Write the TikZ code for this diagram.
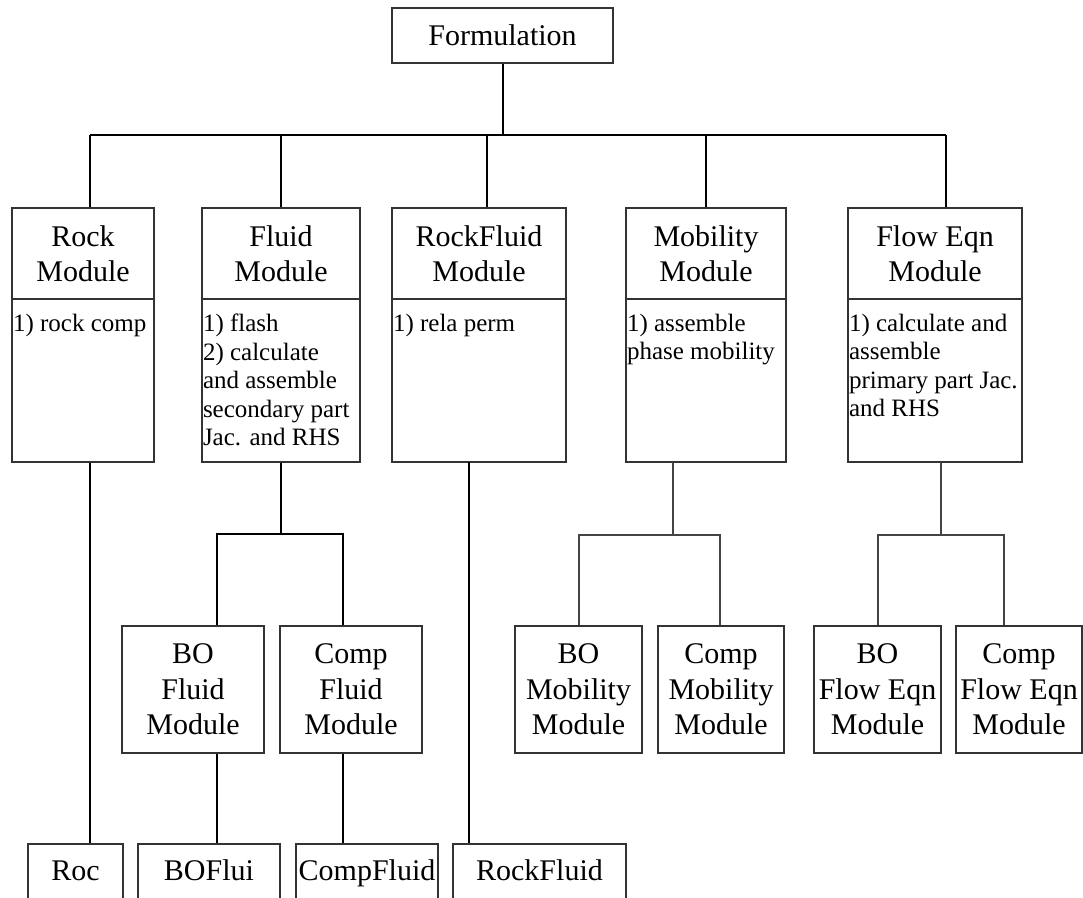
\documentclass[tikz,border=0pt]{standalone}
\usepackage{fontspec}
\setmainfont{Liberation Serif}
\definecolor{boxgray}{HTML}{333333}
\definecolor{lngray}{HTML}{444444}
\tikzset{
  box/.style={draw=boxgray, line width=1.4pt, inner sep=0pt, align=center,
    font=\fontsize{30}{35.5}\selectfont},
  bodytxt/.style={inner sep=0pt, align=left, anchor=north west,
    font=\fontsize{25}{28.5}\selectfont},
  bottomtxt/.style={text height=20pt, text depth=6pt},
  tree/.style={draw=black, line width=2pt},
  subtree/.style={draw=lngray, line width=1.4pt},
}
\begin{document}
\begin{tikzpicture}[x=1pt,y=-1pt]
\useasboundingbox (0,0) rectangle (1083,897);
\fill[white] (0,0) rectangle (1083,897);
\clip (0,0) rectangle (1083,897);

% top
\node[box, minimum width=221pt, minimum height=55pt] (form) at (502.5,35.5) {Formulation};

% level 1 headers and bodies
\node[box, minimum width=142pt, minimum height=91pt] (rockH) at (83,253.5) {Rock\\Module};
\node[box, minimum width=142pt, minimum height=163pt] (rockB) at (83,380.5) {};
\node[box, minimum width=158pt, minimum height=91pt] (fluidH) at (281,253.5) {Fluid\\Module};
\node[box, minimum width=158pt, minimum height=163pt] (fluidB) at (281,380.5) {};
\node[box, minimum width=174pt, minimum height=91pt] (rfH) at (479,253.5) {RockFluid\\Module};
\node[box, minimum width=174pt, minimum height=163pt] (rfB) at (479,380.5) {};
\node[box, minimum width=160pt, minimum height=91pt] (mobH) at (706,253.5) {Mobility\\Module};
\node[box, minimum width=160pt, minimum height=163pt] (mobB) at (706,380.5) {};
\node[box, minimum width=174pt, minimum height=91pt] (flowH) at (935,253.5) {Flow Eqn\\Module};
\node[box, minimum width=174pt, minimum height=163pt] (flowB) at (935,380.5) {};

\node[bodytxt] (rockT) at ([xshift=1.5pt,yshift=-15.5pt]rockB.north west) {1) rock comp};
\node[bodytxt] (fluidT) at ([xshift=1.5pt,yshift=-15.5pt]fluidB.north west) {1) flash\\2) calculate\\and assemble\\secondary part\\Jac. and RHS};
\node[bodytxt] (rfT) at ([xshift=1.5pt,yshift=-15.5pt]rfB.north west) {1) rela perm};
\node[bodytxt] (mobT) at ([xshift=1.5pt,yshift=-15.5pt]mobB.north west) {1) assemble\\phase mobility};
\node[bodytxt] (flowT) at ([xshift=1.5pt,yshift=-15.5pt]flowB.north west) {1) calculate and\\assemble\\primary part Jac.\\and RHS};

% level 2
\node[box, minimum width=142pt, minimum height=127pt] (bofl) at (193,689.5) {BO\\Fluid\\Module};
\node[box, minimum width=142pt, minimum height=127pt] (cofl) at (351,689.5) {Comp\\Fluid\\Module};
\node[box, minimum width=127pt, minimum height=127pt] (bomob) at (578.5,689.5) {BO\\Mobility\\Module};
\node[box, minimum width=126pt, minimum height=127pt] (comob) at (721,689.5) {Comp\\Mobility\\Module};
\node[box, minimum width=127pt, minimum height=127pt] (boflow) at (877.5,689.5) {BO\\Flow Eqn\\Module};
\node[box, minimum width=126pt, minimum height=127pt] (coflow) at (1019,689.5) {Comp\\Flow Eqn\\Module};

% level 3 (cut off at the bottom)
\node[box, bottomtxt, minimum width=95pt, minimum height=58pt] (roc) at (75.5,873) {Roc};
\node[box, bottomtxt, minimum width=142pt, minimum height=58pt] (boflui) at (209,873) {BOFlui};
\node[box, bottomtxt, minimum width=142pt, minimum height=58pt] (cfluid) at (367,873) {CompFluid};
\node[box, bottomtxt, minimum width=173pt, minimum height=58pt] (rfluid) at (539.5,873) {RockFluid};

% main bus
\coordinate (bl) at (90,135);
\coordinate (br) at (946,135);
\coordinate (rftop) at (487,135);
\draw[tree] (form.south) -- (form.south |- bl);
\draw[tree] (bl) -- (br);
\draw[tree] (bl) -- (bl |- rockH.north);
\draw[tree] (fluidH.north |- bl) -- (fluidH.north);
\draw[tree] (rftop) -- (rftop |- rfH.north);
\draw[tree] (mobH.north |- bl) -- (mobH.north);
\draw[tree] (br) -- (br |- flowH.north);

% rock
\draw[tree] (bl |- rockB.south) -- (bl |- roc.north);

% fluid
\coordinate (fsl) at (217,534);
\coordinate (fsr) at (343,534);
\draw[tree] (fluidB.south) -- (fluidB.south |- fsl);
\draw[tree] (fsl |- bofl.north) -- (fsl) -- (fsr) -- (fsr |- cofl.north);
\draw[tree] (fsl |- bofl.south) -- (fsl |- boflui.north);
\draw[tree] (fsr |- cofl.south) -- (fsr |- cfluid.north);

% rockfluid
\coordinate (rfbot) at (469,462);
\draw[tree] (rfbot) -- (rfbot |- rfluid.north);

% mobility
\coordinate (mdrop) at (673,462);
\coordinate (msl) at (579,535);
\coordinate (msr) at (720,535);
\draw[subtree] (mdrop) -- (mdrop |- msl);
\draw[subtree] (msl |- bomob.north) -- (msl) -- (msr) -- (msr |- comob.north);

% flow
\coordinate (wdrop) at (941,462);
\coordinate (wsl) at (878,535);
\coordinate (wsr) at (1004,535);
\draw[subtree] (wdrop) -- (wdrop |- wsl);
\draw[subtree] (wsl |- boflow.north) -- (wsl) -- (wsr) -- (wsr |- coflow.north);
\end{tikzpicture}
\end{document}
